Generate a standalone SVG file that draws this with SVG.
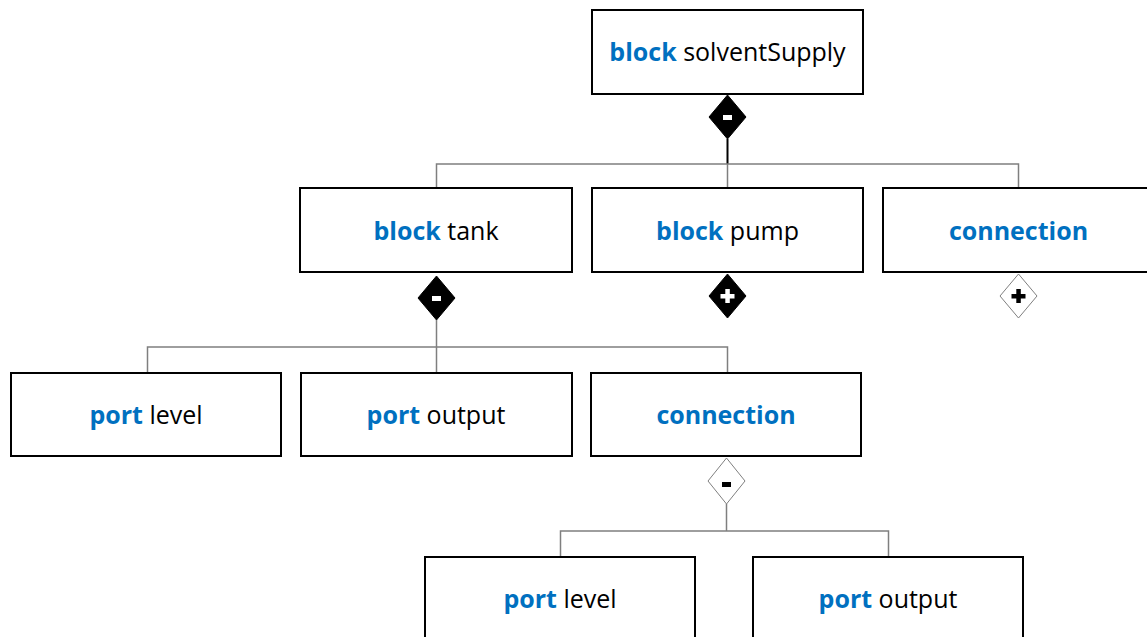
<svg xmlns="http://www.w3.org/2000/svg" width="1147" height="637" viewBox="0 0 1147 637">
<style>
.box{fill:#fff;stroke:#000;stroke-width:2}
.t{font-family:"Open Sans","Noto Sans",sans-serif;font-size:25px;fill:#000;text-anchor:middle}
.k{fill:#0070c0;font-weight:bold}
.c{fill:none;stroke:#7f7f7f;stroke-width:1.5}
.cb{fill:none;stroke:#000;stroke-width:2}
.df{fill:#000;stroke:#000;stroke-width:1}
.dh{fill:#fff;stroke:#7f7f7f;stroke-width:1}
.sw{fill:#fff}
.sb{fill:#000}
</style>
<rect width="1147" height="637" fill="#fff"/>
<g id="connectors">
<path class="cb" d="M727.5 139V164"/>
<path class="c" d="M436.5 188V164H1018.5V188M727.5 164V188"/>
<path class="c" d="M436.5 320V347M147.5 373V347H727.5V373M436.5 347V373"/>
<path class="c" d="M726.5 504V531M560.5 557V531H888.5V557"/>
<g id="diamond1"><polygon class="df" points="727.5,95 746,117 727.5,139 709,117"/><rect class="sw" x="723" y="115" width="9" height="5"/></g>
<g id="diamond2"><polygon class="df" points="436.5,276 455,298 436.5,320 418,298"/><rect class="sw" x="432" y="296" width="9" height="5"/></g>
<g id="diamond3"><polygon class="df" points="727.5,274 746,296 727.5,318 709,296"/><rect class="sw" x="720.5" y="294" width="14" height="4.5"/><rect class="sw" x="725.3" y="289" width="4.5" height="14"/></g>
<g id="diamond4"><polygon class="dh" points="1018.5,274 1037,296 1018.5,318 1000,296"/><rect class="sb" x="1011.5" y="294" width="14" height="4.5"/><rect class="sb" x="1016.3" y="289" width="4.5" height="14"/></g>
<g id="diamond5"><polygon class="dh" points="726.5,458 745,481 726.5,504 708,481"/><rect class="sb" x="722" y="482" width="9" height="5"/></g>
</g>
<g id="n_solventSupply"><rect class="box" x="592" y="10" width="271" height="84"/><text class="t" x="727.5" y="61"><tspan class="k">block</tspan> solventSupply</text></g>
<g id="n_tank"><rect class="box" x="300" y="188" width="272" height="84"/><text class="t" x="436" y="240"><tspan class="k">block</tspan> tank</text></g>
<g id="n_pump"><rect class="box" x="592" y="188" width="271" height="84"/><text class="t" x="727.5" y="240"><tspan class="k">block</tspan> pump</text></g>
<g id="n_connection1"><rect class="box" x="883" y="188" width="272" height="84"/><text class="t" x="1018.5" y="240"><tspan class="k">connection</tspan></text></g>
<g id="n_level1"><rect class="box" x="11" y="373" width="270" height="83"/><text class="t" x="146" y="424"><tspan class="k">port</tspan> level</text></g>
<g id="n_output1"><rect class="box" x="301" y="373" width="271" height="83"/><text class="t" x="436" y="424"><tspan class="k">port</tspan> output</text></g>
<g id="n_connection2"><rect class="box" x="591" y="373" width="270" height="83"/><text class="t" x="726" y="424"><tspan class="k">connection</tspan></text></g>
<g id="n_level2"><rect class="box" x="425" y="557" width="270" height="90"/><text class="t" x="560" y="608"><tspan class="k">port</tspan> level</text></g>
<g id="n_output2"><rect class="box" x="753" y="557" width="270" height="90"/><text class="t" x="888" y="608"><tspan class="k">port</tspan> output</text></g>
</svg>
